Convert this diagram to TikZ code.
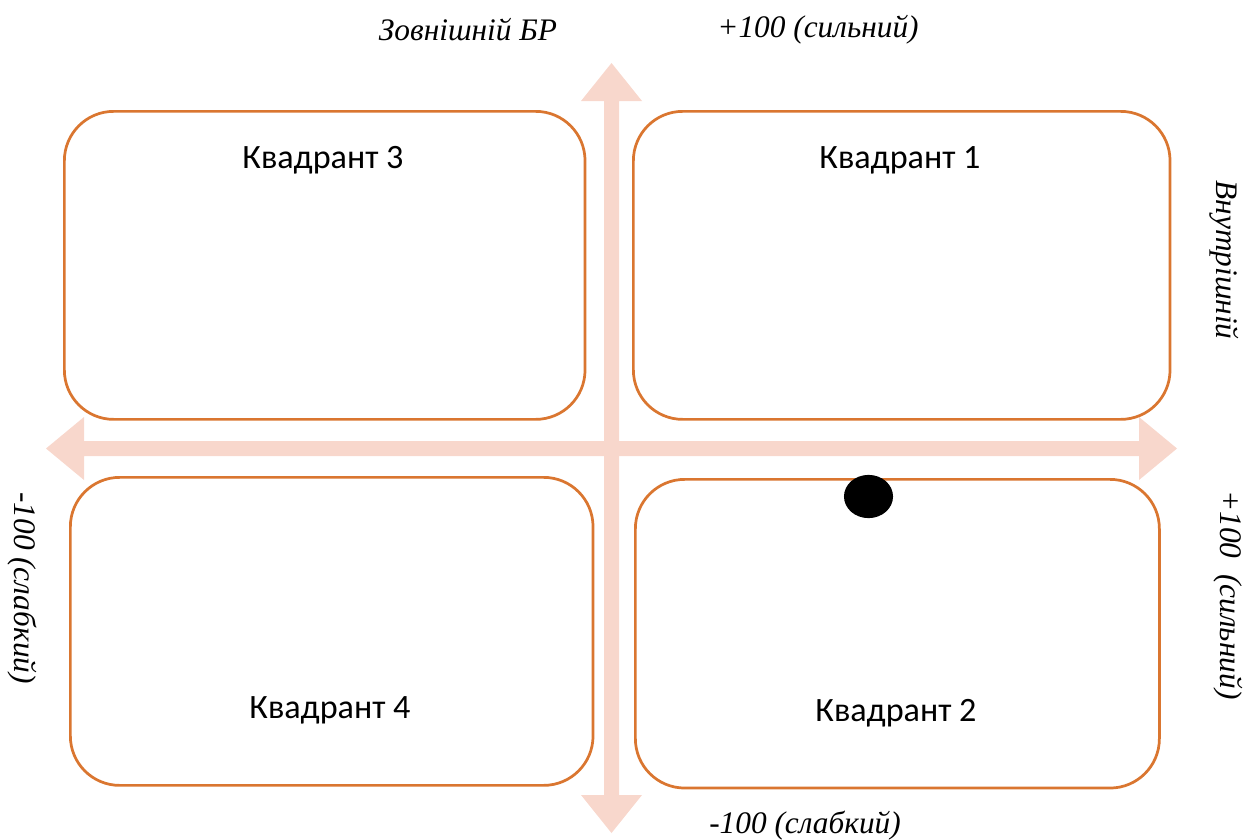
\documentclass[tikz,border=0pt]{standalone}
\usepackage{fontspec}
\setmainfont{Liberation Serif}
\newfontfamily\quadfont{Carlito}
\definecolor{axisfill}{RGB}{248,215,204}
\definecolor{boxline}{RGB}{218,118,48}
\tikzset{
  quad/.style={draw=boxline, line width=2.05pt, fill=white,
    rounded corners=37pt, inner sep=0pt, anchor=north west},
  quadlabel/.style={font=\quadfont\fontsize{25.6}{30}\selectfont, inner sep=0pt},
  axislabel/.style={font=\itshape\fontsize{23.5}{28}\selectfont, inner sep=0pt},
  axisarrow/.style={fill=axisfill, draw=none}
}
\begin{document}
\begin{tikzpicture}[x=0.75pt,y=-0.75pt]
  \useasboundingbox (0,0) rectangle (1251,839);

  % vertical axis (double-headed)
  \fill[axisarrow] (604,101) -- (581,101) -- (611.5,63) -- (642,101) -- (619,101)
    -- (619,795) -- (642,795) -- (611.5,833) -- (581,795) -- (604,795) -- cycle;
  % horizontal axis (double-headed)
  \fill[axisarrow] (84,441) -- (84,417) -- (46,448.5) -- (84,480) -- (84,456)
    -- (1139,456) -- (1139,480) -- (1177,448.5) -- (1139,417) -- (1139,441) -- cycle;

  % quadrants
  \node[quad, minimum width=390.5pt, minimum height=231pt] (q3) at (63,110) {};
  \node[quad, minimum width=402.5pt, minimum height=231pt] (q1) at (632,110) {};
  \node[quad, minimum width=392pt, minimum height=231pt] (q4) at (69,476) {};
  \node[quad, minimum width=393pt, minimum height=231.5pt] (q2) at (634,478) {};

  \node[quadlabel] (l3) at (323,160) {Квадрант 3};
  \node[quadlabel] (l1) at (900,160) {Квадрант 1};
  \node[quadlabel] (l4) at (330,710) {Квадрант 4};
  \node[quadlabel] (l2) at (896,713) {Квадрант 2};

  % marker
  \fill[black] (868.5,496.5) ellipse [x radius=18.4pt, y radius=16.2pt];

  % axis captions
  \node[axislabel] (ext) at (468,30) {Зовнішній БР};
  \node[axislabel] (extp) at (818,30) {+100 (сильний)};
  \node[axislabel] (extm) at (805,826) {-100 (слабкий)};
  \node[axislabel, rotate=-90] (int) at (1224,260) {Внутрішній};
  \node[axislabel, rotate=-90] (intp) at (1228,595) {+100\ \ (сильний)};
  \node[axislabel, rotate=-90] (intm) at (22,588) {-100 (слабкий)};
\end{tikzpicture}
\end{document}
